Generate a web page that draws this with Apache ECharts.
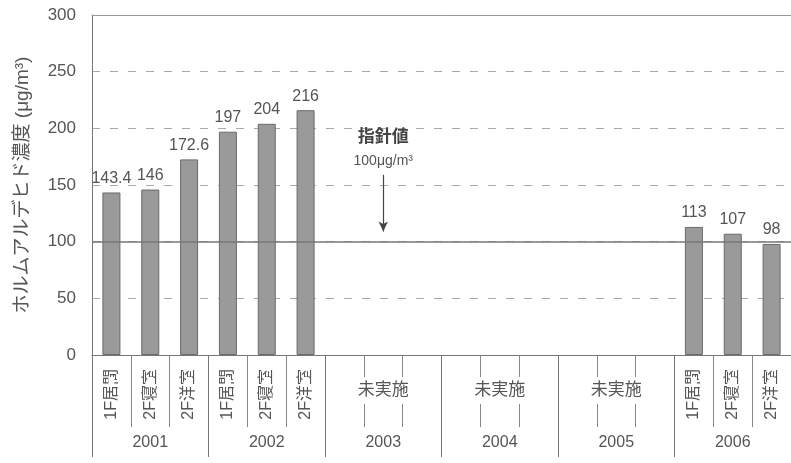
<!DOCTYPE html>
<html>
<head>
<meta charset="utf-8">
<script src="https://cdn.jsdelivr.net/npm/echarts@6/dist/echarts.min.js"></script>
<style>
html, body { margin: 0; padding: 0; background: #fff; }
#chart { width: 791px; height: 463px; }
</style>
</head>
<body>
<div id="chart"></div>
<script>
// data
var rooms = ['1F居間', '2F寝室', '2F洋室', '1F居間', '2F寝室', '2F洋室',
    '', '', '', '', '', '', '', '', '',
    '1F居間', '2F寝室', '2F洋室'];
var years = ['2001', '2002', '2003', '2004', '2005', '2006'];
var notDone = ['', '', '', '', '', '', '', '未実施', '', '', '未実施', '', '', '未実施', '', '', '', ''];
var values = [143.4, 146, 172.6, 197, 204, 216, '-', '-', '-', '-', '-', '-', '-', '-', '-', 113, 107, 98];
var guideValue = 100;
var yTicks = [0, 50, 100, 150, 200, 250, 300];

var font = "'Liberation Sans', 'Noto Sans CJK JP', sans-serif";
var textColor = '#555';

var chartDom = document.getElementById('chart');
var chart = echarts.init(chartDom);

var option = {
    animation: false,
    grid: { left: 92, top: 15, width: 708, bottom: 108 },
    textStyle: { fontFamily: font },
    xAxis: [
        {
            type: 'category',
            data: rooms,
            position: 'bottom',
            axisLine: { show: true, lineStyle: { color: '#777', width: 1 } },
            axisTick: { show: true, interval: 0, length: 72, lineStyle: { color: '#888' } },
            axisLabel: { interval: 0, rotate: 90, margin: 14, fontSize: 16, color: textColor, fontFamily: font }
        },
        {
            type: 'category',
            data: years,
            position: 'bottom',
            axisLine: { show: false },
            axisTick: { show: true, interval: 0, length: 102, lineStyle: { color: '#777' } },
            axisLabel: { interval: 0, margin: 80, fontSize: 16, color: textColor, fontFamily: font }
        },
        {
            type: 'category',
            data: notDone,
            position: 'bottom',
            z: 5,
            axisLine: { show: false },
            axisTick: { show: false },
            axisLabel: {
                interval: 0, margin: 22, fontSize: 17, color: textColor, fontFamily: font,
                backgroundColor: '#fff', padding: [5, 3]
            }
        },
        {
            type: 'category',
            data: rooms,
            position: 'top',
            axisLine: { show: true, lineStyle: { color: '#999' } },
            axisTick: { show: false },
            axisLabel: { show: false }
        }
    ],
    yAxis: {
        type: 'value',
        min: yTicks[0],
        max: yTicks[yTicks.length - 1],
        interval: 50,
        name: 'ホルムアルデヒド濃度 (μg/m³)',
        nameLocation: 'middle',
        nameGap: 60,
        nameTextStyle: { fontSize: 19, color: textColor, fontFamily: font },
        axisLine: { show: true, lineStyle: { color: '#777' } },
        axisTick: { show: false },
        axisLabel: { fontSize: 17, color: textColor, margin: 16, fontFamily: font },
        splitLine: { lineStyle: { color: '#aaa', type: [8, 10] } }
    },
    series: [{
        type: 'bar',
        xAxisIndex: 0,
        data: values,
        barWidth: 18,
        itemStyle: { color: '#9a9a9a', borderColor: '#6a6a6a', borderWidth: 1 },
        label: { show: true, position: 'top', distance: 6, fontSize: 16, color: textColor, fontFamily: font },
        markLine: {
            silent: true,
            animation: false,
            symbol: ['none', 'none'],
            data: [
                {
                    yAxis: guideValue,
                    label: { show: false },
                    lineStyle: { color: '#777', width: 1.5, type: 'solid' }
                },
                [
                    {
                        coord: [7, 159],
                        symbol: 'none',
                        label: {
                            show: true,
                            position: 'start',
                            distance: 4,
                            formatter: '{a|指針値}\n{b|100μg/m³}',
                            rich: {
                                a: { fontSize: 17, fontWeight: 'bold', color: '#444', lineHeight: 26, fontFamily: font },
                                b: { fontSize: 14, color: textColor, lineHeight: 20, fontFamily: font }
                            }
                        },
                        lineStyle: { color: '#444', width: 1.2, type: 'solid' }
                    },
                    { coord: [7, 109], symbol: 'arrow', symbolSize: [7, 10] }
                ]
            ]
        }
    }]
};

chart.setOption(option);
</script>
</body>
</html>
